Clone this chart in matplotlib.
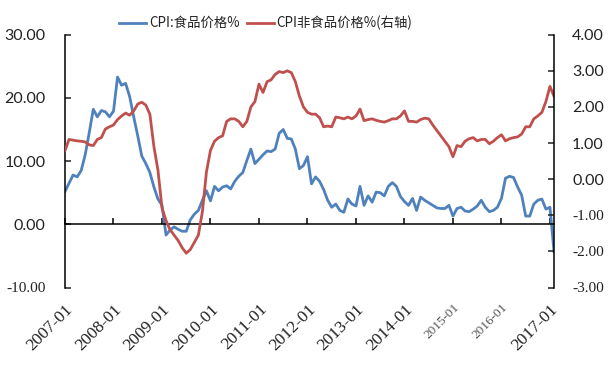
import matplotlib
matplotlib.use('Agg')
import matplotlib.pyplot as plt
import numpy as np

# ---- data ----
months = [f"{y}-{m:02d}" for y in range(2007, 2018) for m in range(1, 13)][:122]

food = [
    # 2007
    5.2, 6.5, 7.8, 7.5, 8.5, 11.0, 14.5, 18.2, 17.0, 18.0, 17.8, 17.0,
    # 2008
    17.9, 23.3, 22.0, 22.3, 20.2, 17.0, 14.0, 10.8, 9.6, 8.2, 5.9, 4.0,
    # 2009
    3.0, -1.7, -0.9, -0.4, -0.8, -1.1, -1.1, 0.7, 1.6, 2.2, 3.8, 5.3,
    # 2010
    3.7, 6.0, 5.3, 5.9, 6.1, 5.6, 6.8, 7.6, 8.2, 10.1, 11.9, 9.6,
    # 2011
    10.3, 11.0, 11.6, 11.5, 11.9, 14.4, 15.0, 13.6, 13.5, 11.9, 8.8, 9.3,
    # 2012
    10.7, 6.4, 7.5, 6.8, 5.5, 3.8, 2.7, 3.2, 2.2, 1.9, 4.0, 3.2,
    # 2013
    2.9, 6.0, 3.0, 4.5, 3.5, 5.1, 5.0, 4.5, 6.0, 6.6, 6.0, 4.4,
    # 2014
    3.6, 3.0, 4.1, 2.2, 4.3, 3.8, 3.4, 3.0, 2.6, 2.5, 2.5, 3.0,
    # 2015
    1.3, 2.5, 2.7, 2.1, 2.0, 2.4, 2.9, 3.8, 2.7, 2.0, 2.2, 2.7,
    # 2016
    4.1, 7.3, 7.6, 7.4, 5.9, 4.6, 1.3, 1.3, 3.2, 3.8, 4.0, 2.4,
    # 2017
    2.7, -4.3,
]

nonfood = [
    # 2007
    0.79, 1.10, 1.08, 1.06, 1.05, 1.03, 0.95, 0.93, 1.10, 1.15, 1.39, 1.45,
    # 2008
    1.50, 1.65, 1.75, 1.83, 1.77, 1.89, 2.08, 2.13, 2.05, 1.80, 0.90, 0.25,
    # 2009
    -0.80, -1.15, -1.40, -1.55, -1.70, -1.90, -2.05, -1.95, -1.75, -1.55, -0.90, 0.20,
    # 2010
    0.80, 1.05, 1.15, 1.20, 1.60, 1.67, 1.67, 1.60, 1.45, 1.60, 2.00, 2.15,
    # 2011
    2.63, 2.40, 2.70, 2.75, 2.90, 2.98, 2.95, 3.00, 2.95, 2.70, 2.30, 2.00,
    # 2012
    1.85, 1.80, 1.80, 1.70, 1.45, 1.47, 1.45, 1.72, 1.70, 1.67, 1.72, 1.67,
    # 2013
    1.75, 1.94, 1.62, 1.65, 1.67, 1.63, 1.60, 1.58, 1.62, 1.67, 1.67, 1.75,
    # 2014
    1.89, 1.60, 1.60, 1.58, 1.65, 1.69, 1.67, 1.50, 1.35, 1.20, 1.05, 0.90,
    # 2015
    0.62, 0.93, 0.90, 1.05, 1.12, 1.15, 1.06, 1.10, 1.10, 0.98, 1.05, 1.15,
    # 2016
    1.23, 1.06, 1.12, 1.15, 1.17, 1.25, 1.45, 1.45, 1.67, 1.75, 1.85, 2.15,
    # 2017
    2.57, 2.30,
]

xtick_labels = ["2007-01", "2008-01", "2009-01", "2010-01", "2011-01", "2012-01",
                "2013-01", "2014-01", "2015-01", "2016-01", "2017-01"]
left_ticks = [-10, 0, 10, 20, 30]
right_ticks = [-3, -2, -1, 0, 1, 2, 3, 4]

legend_labels = ["CPI:食品价格%", "CPI非食品价格%(右轴)"]

# ---- figure ----
BLUE = '#4F81BD'
RED = '#C0504D'
TXT = '#222222'

fig = plt.figure(figsize=(6.15, 3.65), dpi=100)
ax = fig.add_axes([65 / 615, 1 - 287.5 / 365, (554 - 65) / 615, (287.5 - 34.7) / 365])
ax2 = ax.twinx()

x = np.arange(len(months))
l1, = ax.plot(x, food, color=BLUE, lw=2.0, solid_joinstyle='round')
l2, = ax2.plot(x, nonfood, color=RED, lw=2.0, solid_joinstyle='round')

ax.set_xlim(0, len(months) - 1)
ax.set_ylim(-10, 30)
ax2.set_ylim(-3, 4)

# spines
ax.spines['top'].set_visible(False)
ax.spines['right'].set_visible(False)
ax.spines['bottom'].set_position(('data', 0))
for s in ['top', 'bottom', 'left']:
    ax2.spines[s].set_visible(False)
for s in ['left', 'bottom']:
    ax.spines[s].set_linewidth(1.1)
    ax.spines[s].set_color('black')
ax2.spines['right'].set_linewidth(1.1)
ax2.spines['right'].set_color('black')

# x ticks on the zero line
tick_pos = x[::12]
ax.set_xticks(tick_pos)
ax.tick_params(axis='x', direction='in', length=4, width=1.1, labelbottom=False)

# x tick labels at the bottom
sec = ax.secondary_xaxis('bottom')
sec.set_xticks(tick_pos, xtick_labels)
sec.spines['bottom'].set_visible(False)
sec.tick_params(axis='x', length=0, pad=10)
for i, lab in enumerate(sec.get_xticklabels()):
    lab.set_rotation(45)
    lab.set_ha('right')
    lab.set_va('top')
    lab.set_rotation_mode('anchor')
    lab.set_fontfamily('Liberation Serif')
    if xtick_labels[i] in ("2015-01", "2016-01"):
        lab.set_fontsize(9.5)
        lab.set_color('#555555')
    else:
        lab.set_fontsize(12.5)
        lab.set_color(TXT)

# left y axis
ax.set_yticks(left_ticks, [f"{v:.2f}" for v in left_ticks])
ax.tick_params(axis='y', direction='in', length=4, width=1.1, pad=14, colors=TXT)
for v, lab in zip(left_ticks, ax.get_yticklabels()):
    if v < 0:
        lab.set_fontfamily('Liberation Serif')
        lab.set_fontsize(11)
    else:
        lab.set_fontfamily('Lato')
        lab.set_fontsize(11.5)

# right y axis
ax2.set_yticks(right_ticks, [f"{v:.2f}" for v in right_ticks])
ax2.tick_params(axis='y', direction='in', length=4, width=1.1, pad=13, colors=TXT)
for v, lab in zip(right_ticks, ax2.get_yticklabels()):
    if v < 0:
        lab.set_fontfamily('Liberation Serif')
        lab.set_fontsize(11)
    else:
        lab.set_fontfamily('Lato')
        lab.set_fontsize(11.5)

# legend
leg = fig.legend([l1, l2], legend_labels, loc='center',
                 bbox_to_anchor=(266 / 615, 1 - 23 / 365), ncol=2, frameon=False,
                 handlelength=2.0, handletextpad=0.2, columnspacing=0.6,
                 prop={'family': ['Noto Sans CJK SC', 'DejaVu Sans'], 'size': 9.6})
for t in leg.get_texts():
    t.set_color(TXT)

fig.savefig('out.png', dpi=100)
